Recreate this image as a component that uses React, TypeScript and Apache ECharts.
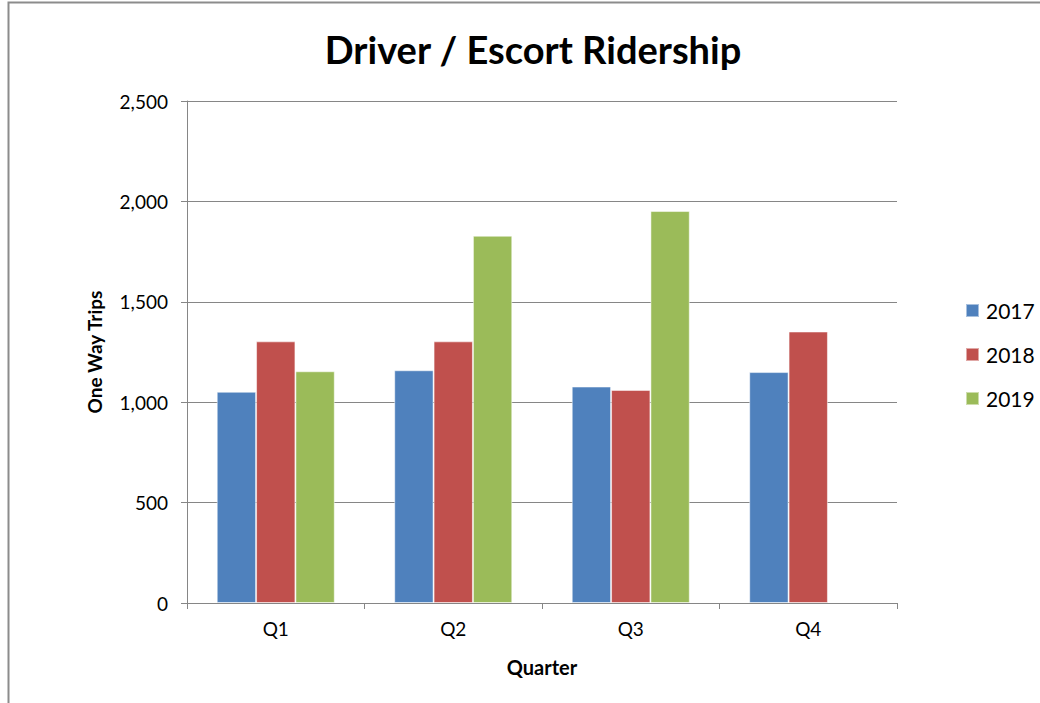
import React, { useEffect, useRef } from "react";
import * as echarts from "echarts";

const quarters = ["Q1", "Q2", "Q3", "Q4"];
const years = ["2017", "2018", "2019"];
const values2017 = [1052, 1159, 1078, 1150];
const values2018 = [1303, 1303, 1061, 1352];
const values2019: (number | null)[] = [1154, 1829, 1952, null];
const colors = ["#4F81BD", "#C0504D", "#9BBB59"];
const FONT = "Lato, 'Open Sans', sans-serif";

export default function App() {
  const ref = useRef<HTMLDivElement>(null);
  useEffect(() => {
    if (!ref.current) return;
    const chart = echarts.init(ref.current, undefined, { renderer: "svg" });
    const seriesData = [values2017, values2018, values2019];
    chart.setOption({
      animation: false,
      backgroundColor: "#ffffff",
      textStyle: { fontFamily: FONT },
      title: {
        text: "Driver / Escort Ridership",
        left: 528,
        top: 25,
        textAlign: "center",
        textStyle: { fontSize: 38, fontWeight: "bold", color: "#000", fontFamily: FONT },
      },
      graphic: [
        {
          type: "rect",
          shape: { x: 8.5, y: 2.5, width: 1100, height: 800 },
          style: { fill: "none", stroke: "#8c8c8c", lineWidth: 2 },
          silent: true,
        },
      ],
      legend: {
        orient: "vertical",
        left: 960,
        top: 295,
        itemGap: 23,
        itemWidth: 13,
        itemHeight: 13,
        icon: "rect",
        data: years,
        textStyle: { fontSize: 21, lineHeight: 21, color: "#000", fontFamily: FONT, padding: [0, 0, 0, 2] },
      },
      grid: { left: 187, top: 101, width: 710, height: 502, containLabel: false },
      xAxis: {
        type: "category",
        data: quarters,
        boundaryGap: true,
        axisLine: { lineStyle: { color: "#868686", width: 1 } },
        axisTick: { show: true, length: 6, lineStyle: { color: "#868686" } },
        axisLabel: { fontSize: 19, color: "#000", margin: 16, fontFamily: FONT },
        name: "Quarter",
        nameLocation: "middle",
        nameGap: 54,
        nameTextStyle: { fontSize: 20, fontWeight: "bold", color: "#000", fontFamily: FONT },
      },
      yAxis: {
        type: "value",
        min: 0,
        max: 2500,
        interval: 500,
        axisLine: { show: true, lineStyle: { color: "#868686", width: 1 } },
        axisTick: { show: true, length: 6, lineStyle: { color: "#868686" } },
        splitLine: { lineStyle: { color: "#868686", width: 1 } },
        axisLabel: {
          fontSize: 19,
          color: "#000",
          margin: 19,
          fontFamily: FONT,
          formatter: (v: number) => v.toLocaleString("en-US"),
        },
        name: "One Way Trips",
        nameLocation: "middle",
        nameGap: 83,
        nameRotate: 90,
        nameTextStyle: { fontSize: 19, fontWeight: "bold", color: "#000", fontFamily: FONT },
      },
      series: years.map((y, i) => ({
        name: y,
        type: "bar",
        data: seriesData[i],
        barGap: "0%",
        barCategoryGap: "33.5%",
        itemStyle: { color: colors[i], borderColor: "rgba(255,255,255,0.5)", borderWidth: 1 },
      })),
    });
    return () => chart.dispose();
  }, []);
  return (
    <div
      ref={ref}
      style={{ position: "fixed", left: 0, top: 0, width: 1040, height: 703 }}
    />
  );
}
